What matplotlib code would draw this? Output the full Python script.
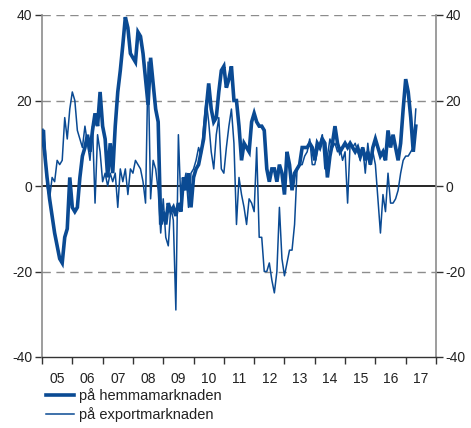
import matplotlib
matplotlib.use("Agg")
import matplotlib.pyplot as plt
import numpy as np

plt.rcParams['font.family'] = ['Liberation Sans', 'DejaVu Sans']

# Monthly values, Jan 2005 - May 2017
home = [
    # 2005
    13, 8, 2, -3, -7, -11, -14, -17, -18, -12, -10, 2,
    # 2006
    -5, -6, -5, 2, 7, 9, 12, 8, 13, 17, 14, 22,
    # 2007
    14, 11, 2, 10, 3, 14, 22, 27, 33, 39.5, 37, 31,
    # 2008
    30, 29, 36, 35, 31, 25, 19, 30, 24, 18, 15, -9,
    # 2009
    -6, -9, -4, -6, -5, -7, -4, -6, 2, -1, 3, -5,
    # 2010
    2, 4, 5, 8, 11, 18, 24, 18, 15, 16, 22, 27,
    # 2011
    28, 23, 25, 28, 20, 20, 14, 6, 10, 9, 8, 15,
    # 2012
    17, 15, 14, 14, 13, 4, 1, 4, 4, 1, 5, 3,
    # 2013
    -2, 8, 5, -1, 3, 4, 5, 9, 9, 9, 10, 9,
    # 2014
    6, 10, 9, 11, 10, 2, 7, 10, 14, 10, 8, 9,
    # 2015
    10, 9, 10, 9, 8, 9, 7, 9, 6, 8, 5, 9,
    # 2016
    11, 9, 7, 8, 6, 13, 9, 12, 9, 6, 10, 18,
    # 2017
    25, 22, 16, 8, 14,
]
export = [
    # 2005
    13, 13, 0, -3, 2, 1, 6, 5, 6, 16, 11, 18,
    # 2006
    22, 20, 13, 11, 9, 14, 10, 6, 14, -4, 12, 8,
    # 2007
    1, 3, 0, 3, 1, 3, -5, 4, 1, 4, -2, 4,
    # 2008
    3, 6, 5, 4, 1, -4, 29, -3, 6, 4, -1, -11,
    # 2009
    -3, -12, -14, -5, -8, -29, 12, -4, 0, 3, -5, 3,
    # 2010
    4, 6, 9, 7, 14, 20, 15, 8, 4, 12, 16, 4,
    # 2011
    3, 9, 14, 18, 10, -9, 2, -2, -5, -9, -3, -4,
    # 2012
    -6, 9, -12, -12, -20, -20, -18, -22, -25, -20, -5, -17,
    # 2013
    -21, -18, -15, -15, -9, 4, 5, 5, 7, 8, 11, 5,
    # 2014
    5, 8, 10, 12, 4, 7, 11, 9, 10, 8, 9, 6,
    # 2015
    8, -4, 10, 9, 10, 8, 6, 9, 3, 10, 5, 8,
    # 2016
    5, -3, -11, -2, -6, 3, -4, -4, -3, -1, 3, 6,
    # 2017
    7, 7, 8, 9, 18,
]
year_labels = ['05', '06', '07', '08', '09', '10', '11', '12', '13', '14', '15', '16', '17']
series_labels = ['på hemmamarknaden', 'på exportmarknaden']
start_year = 2005

color = '#0a4a93'
t = start_year + np.arange(len(home)) / 12.0
t2 = start_year + np.arange(len(export)) / 12.0

fig = plt.figure(figsize=(4.71, 4.28), dpi=100)
ax = fig.add_axes([42/471, 1-357/428, (436-42)/471, (357-15)/428])

for yv in [40, 20, -20]:
    ax.axhline(yv, color='#8c8c8c', lw=1.0, ls=(0, (6, 4)), zorder=1)
ax.axhline(0, color='black', lw=1.2, zorder=2)

ax.plot(t, home, color=color, lw=2.6, solid_joinstyle='miter', zorder=3, label=series_labels[0])
ax.plot(t2, export, color=color, lw=1.1, zorder=4, label=series_labels[1])

ax.set_xlim(start_year, start_year + 13)
ax.set_ylim(-40, 40)

ax.set_yticks([-40, -20, 0, 20, 40])
ax.set_yticklabels(['-40', '-20', '0', '20', '40'])
ax.tick_params(axis='y', which='both', direction='out', length=5, width=1,
               color='#333333', labelsize=10, left=True, right=True,
               labelleft=True, labelright=True, pad=2, labelcolor='#222222')

ax.set_xticks([start_year + k for k in range(14)])
ax.set_xticklabels([])
ax.set_xticks([start_year + k + 0.5 for k in range(13)], minor=True)
ax.set_xticklabels(year_labels, minor=True)
ax.tick_params(axis='x', which='major', direction='out', length=5, width=1, color='#333333')
ax.tick_params(axis='x', which='minor', length=0, labelsize=10, pad=11, labelcolor='#222222')

for s in ['left', 'right']:
    ax.spines[s].set_color('#8c8c8c')
    ax.spines[s].set_linewidth(1.2)
ax.spines['top'].set_visible(False)
ax.spines['bottom'].set_color('#333333')
ax.spines['bottom'].set_linewidth(1.0)

leg = fig.legend(loc='upper left', bbox_to_anchor=(46/471, 1-388/428), frameon=False,
                 fontsize=10.5, handlelength=1.9, handletextpad=0.35, labelspacing=0.25,
                 borderaxespad=0, borderpad=0)
for txt in leg.get_texts():
    txt.set_color('#222222')

fig.savefig('out.png', dpi=100)
